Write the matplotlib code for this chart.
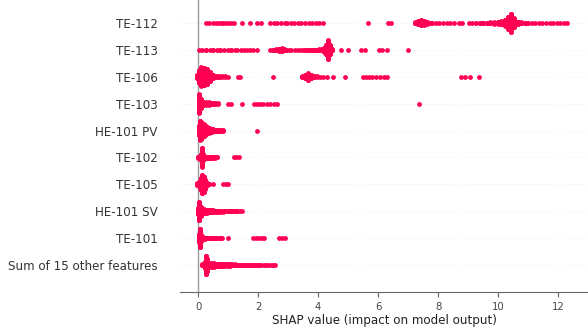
import numpy as np
import matplotlib.pyplot as plt

features = ['TE-112', 'TE-113', 'TE-106', 'TE-103', 'HE-101 PV',
            'TE-102', 'TE-105', 'HE-101 SV', 'TE-101', 'Sum of 15 other features']

# SHAP values: value -> number of samples piled at it
te112_vals = [0.26, 0.36, 0.48, 0.58, 0.68, 0.78, 0.88, 0.98, 1.08, 1.2, 1.46, 1.73, 1.96, 2.1,
              2.4, 2.52, 2.64, 2.76, 2.88, 2.96, 3.08, 3.2, 3.32, 3.44, 3.56, 3.68, 3.8, 3.92,
              4.04, 4.16, 5.67, 6.32, 6.42, 7.22, 7.32, 7.42, 7.52, 7.62, 7.72, 7.8, 7.92, 8.04,
              8.16, 8.28, 8.4, 8.52, 8.68, 8.8, 9.02, 9.14, 9.26, 9.38, 9.5, 9.62, 9.74, 9.86,
              9.98, 10.1, 10.22, 10.34, 10.44, 10.54, 10.66, 10.78, 10.9, 11.0, 11.12, 11.24,
              11.36, 11.48, 11.6, 11.72, 11.84, 11.96, 12.08, 12.2, 12.3]
te112_cnts = [1, 1, 1, 1, 1, 2, 1, 1, 1, 1, 1, 1, 1, 1,
              1, 1, 1, 1, 1, 1, 1, 1, 1, 1, 1, 1, 1, 1,
              1, 1, 1, 1, 1, 4, 12, 18, 14, 6, 3, 2, 1, 1,
              1, 1, 1, 1, 1, 1, 1, 1, 2, 2, 3, 3, 4, 5,
              6, 10, 20, 40, 60, 30, 8, 4, 3, 2, 1, 1,
              1, 1, 1, 1, 1, 1, 1, 1, 1]

te113_vals = [0.02, 0.14, 0.26, 0.38, 0.5, 0.62, 0.74, 0.86, 0.98, 1.1, 1.22, 1.3, 1.42, 1.52,
              1.62, 1.74, 1.84, 1.95, 2.4, 2.5, 2.6, 2.7, 2.78, 2.86, 2.94, 3.02, 3.1, 3.24, 3.34,
              3.44, 3.54, 3.64, 3.74, 3.84, 3.94, 4.04, 4.12, 4.2, 4.27, 4.33, 4.4, 4.47, 4.75,
              4.98, 5.42, 5.56, 6.02, 6.14, 6.28, 7.0]
te113_cnts = [1, 1, 2, 1, 2, 1, 2, 1, 1, 2, 1, 1, 1, 1,
              1, 1, 1, 1, 1, 2, 4, 8, 10, 6, 2, 1, 1, 1, 1,
              1, 2, 2, 3, 3, 3, 4, 6, 14, 30, 60, 30, 6, 1,
              1, 1, 1, 1, 1, 1, 1]

te106_vals = [-0.03, 0.02, 0.1, 0.2, 0.3, 0.4, 0.5, 0.6, 0.7, 0.8, 0.9, 1.0, 1.32, 1.4, 2.5,
              3.47, 3.57, 3.67, 3.77, 3.87, 3.97, 4.07, 4.17, 4.3, 4.5, 4.9, 5.5, 5.6, 5.7, 5.8,
              5.92, 6.05, 6.2, 6.3, 8.77, 8.9, 9.05, 9.35]
te106_cnts = [10, 40, 60, 58, 50, 30, 10, 4, 3, 2, 2, 1, 1, 1, 1,
              3, 10, 22, 12, 4, 2, 1, 1, 1, 1, 1, 1, 1, 1, 1,
              1, 1, 1, 1, 1, 1, 1, 1]

te103_vals = [0.02, 0.09, 0.15, 0.25, 0.35, 0.45, 0.55, 0.65, 0.98, 1.1, 1.46, 1.85, 1.95, 2.05,
              2.15, 2.28, 2.4, 2.52, 2.64, 7.37]
te103_cnts = [60, 30, 10, 8, 8, 6, 4, 2, 1, 1, 1, 1, 1, 1,
              1, 1, 1, 1, 1, 1]

he101pv_vals = [0.02, 0.06, 0.1, 0.14, 0.18, 0.22, 0.26, 0.3, 0.35, 0.4, 0.45, 0.5, 0.56, 0.62,
                0.68, 0.75, 0.82, 1.96]
he101pv_cnts = [30, 60, 55, 45, 40, 32, 26, 20, 16, 12, 10, 8, 6, 4,
                4, 2, 2, 1]

te102_vals = [0.0, 0.04, 0.08, 0.12, 0.16, 0.2, 0.26, 0.32, 0.38, 0.44, 0.5, 0.56, 0.63,
              1.18, 1.26, 1.36]
te102_cnts = [4, 6, 20, 60, 20, 8, 6, 6, 5, 4, 4, 3, 2,
              1, 1, 1]

te105_vals = [-0.03, 0.02, 0.06, 0.1, 0.14, 0.18, 0.22, 0.26, 0.3, 0.35, 0.5, 0.82, 0.92, 1.0]
te105_cnts = [6, 14, 24, 40, 60, 50, 30, 14, 6, 2, 1, 1, 1, 1]

he101sv_vals = [0.0, 0.04, 0.08, 0.13, 0.18, 0.24, 0.3, 0.36, 0.42, 0.5, 0.58, 0.66, 0.74, 0.82,
                0.9, 0.98, 1.06, 1.14, 1.22, 1.3, 1.38, 1.46]
he101sv_cnts = [20, 60, 30, 14, 12, 10, 10, 8, 8, 6, 5, 4, 3, 3,
                2, 2, 2, 2, 2, 2, 1, 1]

te101_vals = [0.01, 0.05, 0.09, 0.15, 0.22, 0.3, 0.38, 0.46, 0.55, 0.64, 0.72, 0.8, 1.0,
              1.82, 1.92, 2.02, 2.12, 2.2, 2.68, 2.78, 2.88]
te101_cnts = [25, 60, 20, 6, 5, 4, 4, 3, 3, 2, 2, 1, 1,
              1, 1, 1, 1, 1, 1, 1, 1]

other_vals = [0.13, 0.18, 0.22, 0.26, 0.3, 0.34, 0.4, 0.46, 0.52, 0.58, 0.64, 0.7, 0.76, 0.82,
              0.9, 0.98, 1.06, 1.14, 1.22, 1.3, 1.38, 1.46, 1.54, 1.62, 1.7, 1.78, 1.86, 1.94,
              2.02, 2.1, 2.18, 2.26, 2.34, 2.42, 2.5, 2.56]
other_cnts = [4, 8, 20, 60, 40, 16, 12, 12, 12, 10, 10, 8, 8, 8,
              6, 6, 5, 4, 4, 3, 3, 3, 2, 2, 2, 2, 2, 2,
              2, 1, 1, 1, 1, 1, 1, 1]

rows = [(te112_vals, te112_cnts), (te113_vals, te113_cnts), (te106_vals, te106_cnts),
        (te103_vals, te103_cnts), (he101pv_vals, he101pv_cnts), (te102_vals, te102_cnts),
        (te105_vals, te105_cnts), (he101sv_vals, he101sv_cnts), (te101_vals, te101_cnts),
        (other_vals, other_cnts)]

red = '#ff0052'
row_height = 0.4

fig = plt.figure(figsize=(5.88, 3.28), dpi=100)
ax = fig.add_axes([0.3061, 0.1098, 0.694, 0.89])

n = len(features)
for i, (vals, cnts) in enumerate(rows):
    pos = n - 1 - i
    ax.axhline(pos, color='#cccccc', lw=0.5, dashes=(1, 5), zorder=-1)
    # beeswarm pile-up, same as shap: alternate above/below for repeated values
    xs, ys = [], []
    for v, c in zip(vals, cnts):
        for k in range(c):
            xs.append(v)
            ys.append(np.ceil(k / 2) * ((k % 2) * 2 - 1))
    ys = np.array(ys, dtype=float)
    ys *= 0.9 * (row_height / np.max(ys + 1))
    ax.scatter(xs, pos + ys, s=12, color=red, linewidth=0, zorder=3)

ax.axvline(0, color='#999999', lw=1, zorder=-1)

ax.set_xlim(-0.61, 13.0)
ax.set_ylim(-1, 9.85)
ax.set_yticks(range(n))
ax.set_yticklabels(features[::-1], fontsize=8.6, color='#333333')
ax.tick_params('y', length=0, pad=16)
ax.set_xticks([0, 2, 4, 6, 8, 10, 12])
ax.tick_params('x', labelsize=7.3, labelcolor='#444444', color='#666666', length=3.5, width=0.8)
ax.set_xlabel('SHAP value (impact on model output)', fontsize=8.6, color='#222222', labelpad=2)

for side in ['top', 'right', 'left']:
    ax.spines[side].set_visible(False)
ax.spines['bottom'].set_color('#666666')

fig.savefig('out.png', dpi=100)
